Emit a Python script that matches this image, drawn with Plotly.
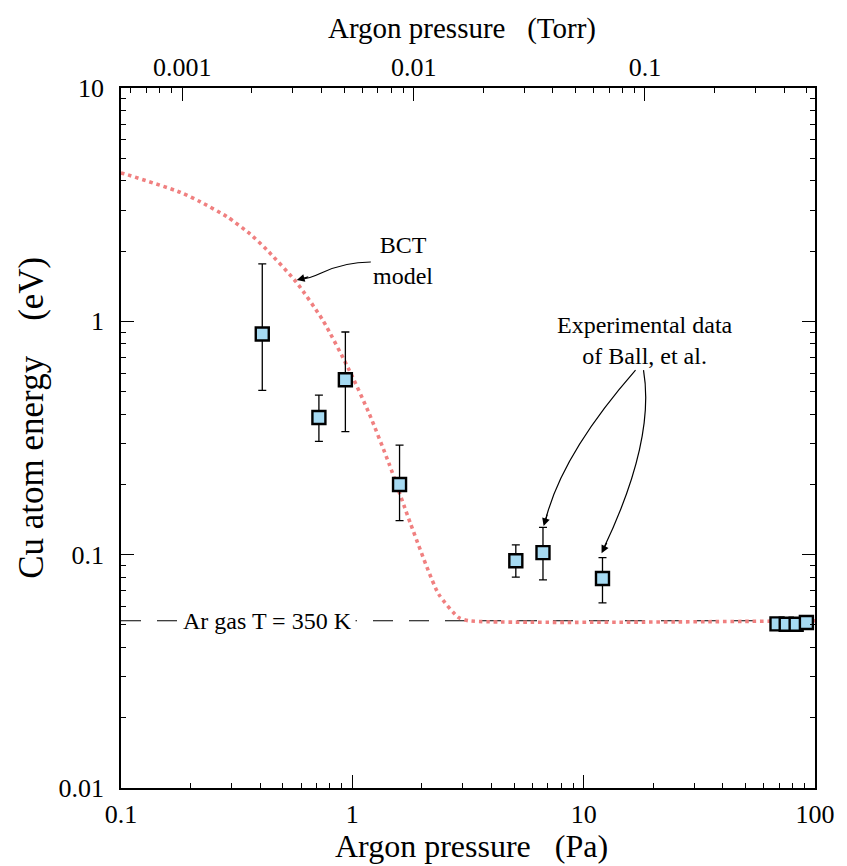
import math
import plotly.graph_objects as go

# ---------------- data ----------------
exp_pressure_pa = [0.408, 0.717, 0.933, 1.60, 5.09, 6.67, 12.06, 68.5, 75.1, 82.9, 91.8]
exp_energy_ev = [0.882, 0.387, 0.562, 0.200, 0.0942, 0.102, 0.0791, 0.0505, 0.0503, 0.0503, 0.0512]
exp_err_plus = [0.880, 0.096, 0.338, 0.095, 0.016, 0.029, 0.018, 0, 0, 0, 0]
exp_err_minus = [0.376, 0.081, 0.225, 0.060, 0.014, 0.024, 0.017, 0, 0, 0, 0]

bct_pressure_pa = [0.1, 0.1033, 0.181, 0.2205, 0.287, 0.361, 0.426, 0.573, 0.746, 0.971,
                   1.183, 1.442, 1.786, 2.36, 2.88, 3.18, 100.0]
bct_energy_ev = [4.32, 4.29, 3.57, 3.25, 2.81, 2.37, 2.03, 1.47, 1.01, 0.616,
                 0.402, 0.245, 0.1355, 0.0678, 0.0538, 0.0521, 0.0521]

ar_gas_energy_ev = 0.0521
pa_range = [0.1, 100]

y_tickvals = [0.01, 0.1, 1, 10]
y_ticktext = ["0.01", "0.1", "1", "10"]
x_tickvals = [0.1, 1, 10, 100]
x_ticktext = ["0.1", "1", "10", "100"]
torr_tickvals = [0.001, 0.01, 0.1]
torr_ticktext = ["0.001", "0.01", "0.1"]
torr_log_range = [-3.265, -0.265]

# ---------------- styling ----------------
FONT = "Liberation Serif, Times New Roman, serif"
OFF = 8                      # page body margin of the html page
SCR_L, SCR_T = 121, 88       # plot area top-left on screen
PW, PH = 700, 700
W, H = 847 - OFF, 866 - OFF
L, T = SCR_L - OFF, SCR_T - OFF
R, B = W - L - PW, H - T - PH


def px(x):
    return (x - SCR_L) / PW


def py(y):
    return (SCR_T + PH - y) / PH


def path(points):
    cmds = []
    for c, pts in points:
        cmds.append(c + " " + " ".join(f"{px(a):.4f},{py(b):.4f}" for a, b in pts))
    return " ".join(cmds)


def minors(e0, e1):
    return [m * 10 ** e for e in range(e0, e1) for m in range(2, 10)]


fig = go.Figure()

# Ar gas reference line
fig.add_trace(go.Scatter(
    x=pa_range, y=[ar_gas_energy_ev, ar_gas_energy_ev], mode="lines",
    line=dict(color="black", width=1.2, dash="20px,16px"), hoverinfo="skip", showlegend=False))

# BCT model curve
fig.add_trace(go.Scatter(
    x=bct_pressure_pa, y=bct_energy_ev, mode="lines", line_shape="spline",
    line=dict(color="rgb(240,128,128)", width=3.6, dash="3.6px,3.8px", smoothing=0.6),
    showlegend=False))

# experimental data
fig.add_trace(go.Scatter(
    x=exp_pressure_pa, y=exp_energy_ev, mode="markers",
    marker=dict(symbol="square", size=13, color="rgb(166,218,242)",
                line=dict(color="black", width=2.4)),
    error_y=dict(type="data", symmetric=False, array=exp_err_plus, arrayminus=exp_err_minus,
                 color="black", thickness=1.3, width=4),
    showlegend=False))

# empty trace to bind the Torr axis
fig.add_trace(go.Scatter(x=[], y=[], xaxis="x2", yaxis="y", showlegend=False))

TICK_FONT = dict(family=FONT, size=26, color="black")
axis_common = dict(
    type="log", showgrid=False, zeroline=False, showline=True, linecolor="black", linewidth=1.5,
    ticks="inside", ticklen=13, tickwidth=1.3, tickcolor="black", tickfont=TICK_FONT,
)
minor_common = dict(ticks="inside", ticklen=5, tickwidth=1.1, tickcolor="black", showgrid=False)

fig.update_layout(
    width=W, height=H,
    margin=dict(l=L, r=R, t=T, b=B, pad=0),
    plot_bgcolor="white", paper_bgcolor="white",
    font=dict(family=FONT, color="black"),
    xaxis=dict(**axis_common, range=[math.log10(pa_range[0]), math.log10(pa_range[1])],
               tickmode="array", tickvals=x_tickvals, ticktext=x_ticktext, mirror=False,
               ticklabelstandoff=2,
               minor=dict(tickmode="array", tickvals=minors(-1, 2), **minor_common)),
    xaxis2=dict(**axis_common, range=torr_log_range, overlaying="x", side="top", anchor="y",
                tickmode="array", tickvals=torr_tickvals, ticktext=torr_ticktext,
                ticklabelstandoff=0,
                minor=dict(tickmode="array", tickvals=[6e-4, 7e-4, 8e-4, 9e-4] + minors(-3, 0),
                           **minor_common)),
    yaxis=dict(**axis_common, range=[-2, 1], tickmode="array", tickvals=y_tickvals,
               ticktext=y_ticktext, mirror="ticks", ticklabelstandoff=10,
               minor=dict(tickmode="array", tickvals=minors(-2, 1), **minor_common)),
)

ann_font = dict(family=FONT, size=24, color="black")
title_font = dict(family=FONT, size=32, color="black")
NB = "\u00a0"

annotations = [
    dict(text=f"Argon pressure{NB*3}(Pa)", x=px(475), y=py(846), xref="paper", yref="paper",
         showarrow=False, font=title_font, xanchor="center", yanchor="middle"),
    dict(text=f"Argon pressure{NB*3}(Torr)", x=px(465), y=py(28), xref="paper", yref="paper",
         showarrow=False, font=dict(family=FONT, size=29, color="black"),
         xanchor="center", yanchor="middle"),
    dict(text=f"Cu atom energy{NB*4}(eV)", x=px(30), y=py(418), xref="paper", yref="paper",
         showarrow=False, font=dict(family=FONT, size=35, color="black"), textangle=-90,
         xanchor="center", yanchor="middle"),
    dict(text="BCT<br>model", x=px(405), y=py(261), xref="paper", yref="paper",
         showarrow=False, font=ann_font, xanchor="center", yanchor="middle"),
    dict(text="Experimental data<br>of Ball, et al.", x=px(650), y=py(340), xref="paper",
         yref="paper", showarrow=False, font=ann_font, xanchor="center", yanchor="middle"),
    dict(text="Ar gas T = 350 K", x=px(268.5), y=math.log10(ar_gas_energy_ev), xref="paper",
         yref="y", showarrow=False, font=ann_font, xanchor="center", yanchor="middle",
         bgcolor="white", borderpad=3),
    # arrowheads
    dict(text="", x=px(298.3), y=py(280), xref="paper", yref="paper", showarrow=True,
         ax=13, ay=-3.5, arrowhead=2, arrowsize=1.3, arrowwidth=1.2, arrowcolor="black",
         standoff=0),
    dict(text="", x=px(547.3), y=py(526), xref="paper", yref="paper", showarrow=True,
         ax=4, ay=-13, arrowhead=2, arrowsize=1.3, arrowwidth=1.2, arrowcolor="black",
         standoff=0),
    dict(text="", x=px(605.7), y=py(553.3), xref="paper", yref="paper", showarrow=True,
         ax=6, ay=-12, arrowhead=2, arrowsize=1.3, arrowwidth=1.2, arrowcolor="black",
         standoff=0),
]
fig.update_layout(annotations=annotations)

shapes = [
    dict(type="path", xref="paper", yref="paper",
         path=path([("M", [(373, 262)]), ("C", [(352, 262), (336, 267), (323, 273)]),
                    ("S", [(306, 279), (300, 279.6)])]),
         line=dict(color="black", width=1.2)),
    dict(type="path", xref="paper", yref="paper",
         path=path([("M", [(640, 370)]), ("Q", [(565, 455), (549, 521)])]),
         line=dict(color="black", width=1.2)),
    dict(type="path", xref="paper", yref="paper",
         path=path([("M", [(648, 370)]), ("Q", [(660, 440), (608, 548)])]),
         line=dict(color="black", width=1.2)),
]
fig.update_layout(shapes=shapes)

fig.write_html("out.html")
